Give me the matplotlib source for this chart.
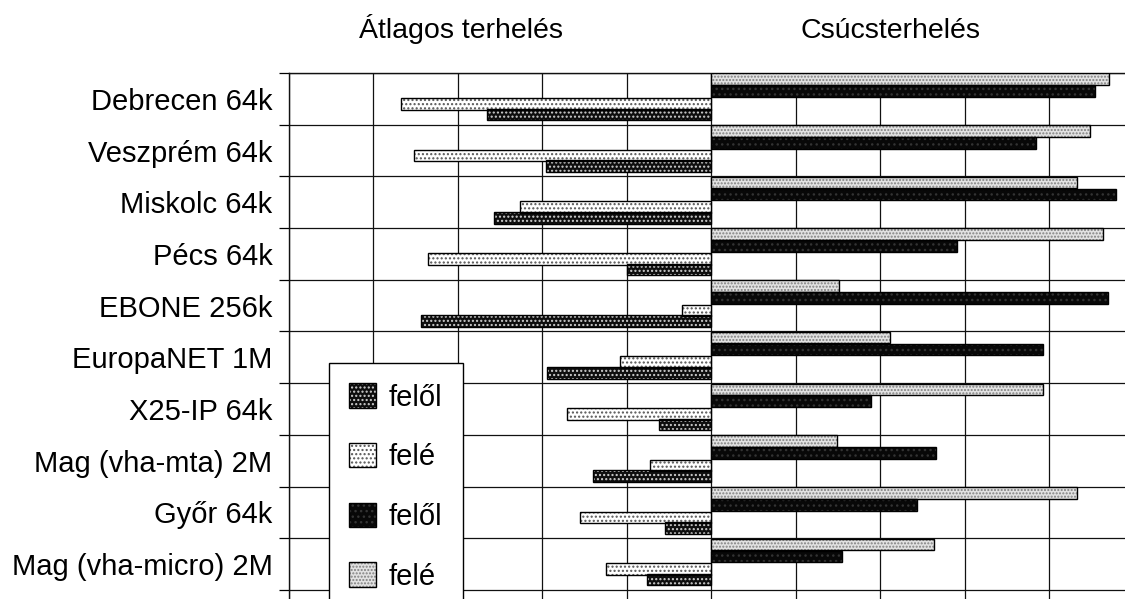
import matplotlib
matplotlib.use("Agg")
from matplotlib import pyplot as plt

plt.rcParams['font.family'] = ['Liberation Sans', 'DejaVu Sans']
plt.rcParams['hatch.linewidth'] = 1.0

# data (% of line capacity)
categories = ["Debrecen 64k", "Veszprém 64k", "Miskolc 64k", "Pécs 64k",
              "EBONE 256k", "EuropaNET 1M", "X25-IP 64k", "Mag (vha-mta) 2M",
              "Győr 64k", "Mag (vha-micro) 2M"]
avg_fele = [73.4, 70.2, 45.2, 67.0, 6.8, 21.6, 34.2, 14.4, 31.0, 24.8]
avg_felol = [53.0, 39.0, 51.4, 20.0, 68.6, 38.8, 12.2, 28.0, 10.8, 15.2]
peak_fele = [94.2, 89.6, 86.6, 92.8, 30.2, 42.4, 78.6, 29.8, 86.6, 52.8]
peak_felol = [91.0, 77.0, 95.8, 58.2, 94.0, 78.6, 37.8, 53.2, 48.8, 31.0]
legend_labels = ["felől", "felé", "felől", "felé"]
titles = ["Átlagos terhelés", "Csúcsterhelés"]

fig = plt.figure(figsize=(11.25, 5.99), dpi=100)
ax = fig.add_axes([288.5 / 1125, -0.0195, 845 / 1125, 0.8977])

bar_h = 0.225
rows = range(len(categories))

# (values, side, row offset, face, hatch colour, hatch)
series = [
    (avg_felol, -1, 0.80, '#0e0e0e', '#d0d0d0', '....'),
    (avg_fele, -1, 0.595, 'white', '#555555', '....'),
    (peak_felol, 1, 0.35, '#080808', '#333333', '...'),
    (peak_fele, 1, 0.12, '#e2e2e2', '#808080', '.....'),
]

handles = []
for vals, side, off, face, hcol, hatch in series:
    ys = [r + off for r in rows]
    ws = [side * v for v in vals]
    fill = ax.barh(ys, ws, height=bar_h, left=0, color=face, edgecolor=hcol,
                   hatch=hatch, linewidth=0, zorder=3)
    edge = ax.barh(ys, ws, height=bar_h, left=0, fill=False,
                   edgecolor='black', linewidth=1.0, zorder=4)
    handles.append((fill[0], edge[0]))

ax.set_xlim(-100, 100)
ax.set_ylim(10.4, 0)

ax.set_xticks(range(-100, 101, 20))
ax.set_yticks(range(0, 11))
ax.set_xticklabels([])
ax.set_yticklabels([])
ax.grid(True, color='#111111', linewidth=0.9, zorder=1)
ax.set_axisbelow(True)

ax.set_yticks([r + 0.5 for r in rows], minor=True)
ax.set_yticklabels(categories, minor=True, fontsize=21)
ax.tick_params(axis='y', which='major', direction='out', length=7, width=0.9)
ax.tick_params(axis='y', which='minor', length=0, pad=11.5)
ax.tick_params(axis='x', length=0)

for s in ax.spines.values():
    s.set_linewidth(1.0)
    s.set_color('#111111')

fig.text(461 / 1125, 1 - 38 / 599, titles[0], ha='center', va='baseline', fontsize=20.5)
fig.text(890 / 1125, 1 - 38 / 599, titles[1], ha='center', va='baseline', fontsize=20.5)

leg = ax.legend(handles, legend_labels, loc='upper left',
                bbox_to_anchor=(329 / 1125, 1 - 363 / 599),
                bbox_transform=fig.transFigure, fontsize=21, frameon=True,
                fancybox=False, edgecolor='black', framealpha=1,
                handlelength=0.9, handleheight=0.9, handletextpad=0.45,
                labelspacing=1.08, borderpad=0.7, borderaxespad=0)
leg.get_frame().set_linewidth(1.0)
leg.set_zorder(10)

fig.savefig("out.png", dpi=100)
